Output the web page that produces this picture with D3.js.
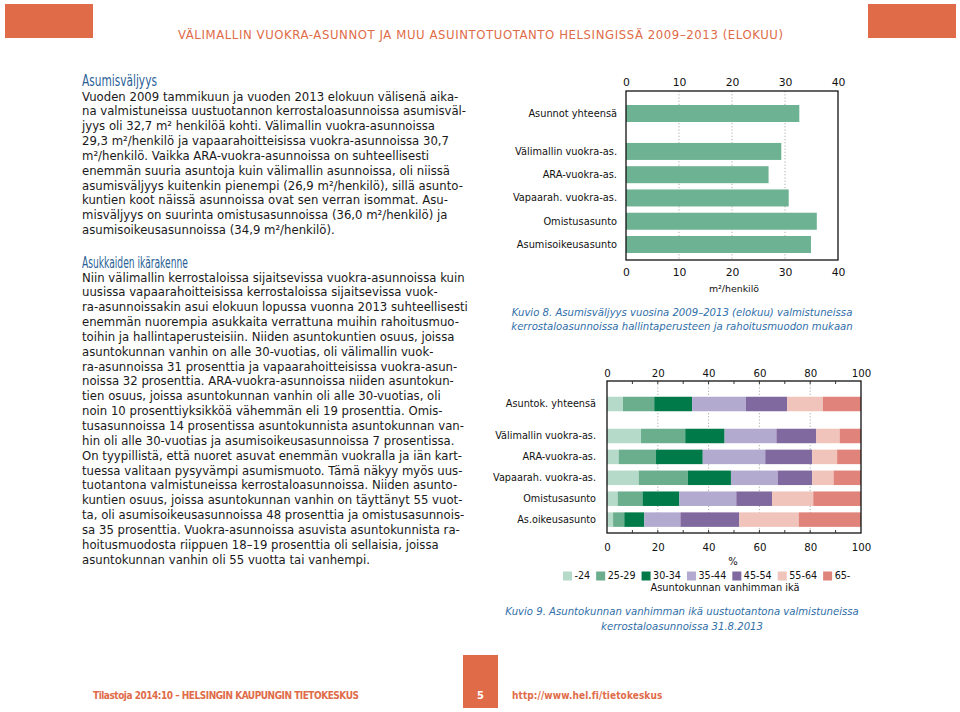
<!DOCTYPE html>
<html><head><meta charset="utf-8">
<script src="https://cdn.jsdelivr.net/npm/d3@7"></script>
<style>
html,body{margin:0;padding:0;background:#fff;}
svg{display:block;}
.body{font-family:"DejaVu Sans",Verdana,sans-serif;font-size:11.7px;fill:#1a1a1a;}
.cond{font-family:"Liberation Sans Narrow","DejaVu Sans Condensed","Roboto",sans-serif;}
.lab{font-family:"DejaVu Sans",Verdana,sans-serif;fill:#111;}
</style></head><body>
<script>
// ---------- data ----------
const pageTitle = "VÄLIMALLIN VUOKRA-ASUNNOT JA MUU ASUINTOTUOTANTO HELSINGISSÄ 2009–2013 (ELOKUU)";
const heading1 = "Asumisväljyys";
const para1 = [
 "Vuoden 2009 tammikuun ja vuoden 2013 elokuun välisenä aika-",
 "na valmistuneissa uustuotannon kerrostaloasunnoissa asumisväl-",
 "jyys oli 32,7 m² henkilöä kohti. Välimallin vuokra-asunnoissa",
 "29,3 m²/henkilö ja vapaarahoitteisissa vuokra-asunnoissa 30,7",
 "m²/henkilö. Vaikka ARA-vuokra-asunnoissa on suhteellisesti",
 "enemmän suuria asuntoja kuin välimallin asunnoissa, oli niissä",
 "asumisväljyys kuitenkin pienempi (26,9 m²/henkilö), sillä asunto-",
 "kuntien koot näissä asunnoissa ovat sen verran isommat. Asu-",
 "misväljyys on suurinta omistusasunnoissa (36,0 m²/henkilö) ja",
 "asumisoikeusasunnoissa (34,9 m²/henkilö)."
];
const heading2 = "Asukkaiden ikärakenne";
const para2 = [
 "Niin välimallin kerrostaloissa sijaitsevissa vuokra-asunnoissa kuin",
 "uusissa vapaarahoitteisissa kerrostaloissa sijaitsevissa vuok-",
 "ra-asunnoissakin asui elokuun lopussa vuonna 2013 suhteellisesti",
 "enemmän nuorempia asukkaita verrattuna muihin rahoitusmuo-",
 "toihin ja hallintaperusteisiin. Niiden asuntokuntien osuus, joissa",
 "asuntokunnan vanhin on alle 30-vuotias, oli välimallin vuok-",
 "ra-asunnoissa 31 prosenttia ja vapaarahoitteisissa vuokra-asun-",
 "noissa 32 prosenttia. ARA-vuokra-asunnoissa niiden asuntokun-",
 "tien osuus, joissa asuntokunnan vanhin oli alle 30-vuotias, oli",
 "noin 10 prosenttiyksikköä vähemmän eli 19 prosenttia. Omis-",
 "tusasunnoissa 14 prosentissa asuntokunnista asuntokunnan van-",
 "hin oli alle 30-vuotias ja asumisoikeusasunnoissa 7 prosentissa.",
 "On tyypillistä, että nuoret asuvat enemmän vuokralla ja iän kart-",
 "tuessa valitaan pysyvämpi asumismuoto. Tämä näkyy myös uus-",
 "tuotantona valmistuneissa kerrostaloasunnoissa. Niiden asunto-",
 "kuntien osuus, joissa asuntokunnan vanhin on täyttänyt 55 vuot-",
 "ta, oli asumisoikeusasunnoissa 48 prosenttia ja omistusasunnois-",
 "sa 35 prosenttia. Vuokra-asunnoissa asuvista asuntokunnista ra-",
 "hoitusmuodosta riippuen 18–19 prosenttia oli sellaisia, joissa",
 "asuntokunnan vanhin oli 55 vuotta tai vanhempi."
];

// Chart 1: Kuvio 8
const categories1 = ["Asunnot yhteensä","Välimallin vuokra-as.","ARA-vuokra-as.","Vapaarah. vuokra-as.","Omistusasunto","Asumisoikeusasunto"];
const values1 = [32.7, 29.3, 26.9, 30.7, 36.0, 34.9];
const ticks1 = [0, 10, 20, 30, 40];
const axisTitle1 = "m²/henkilö";
const caption1 = ["Kuvio 8.  Asumisväljyys vuosina 2009–2013 (elokuu) valmistuneissa",
                  "kerrostaloasunnoissa hallintaperusteen ja rahoitusmuodon mukaan"];

// Chart 2: Kuvio 9
const categories2 = ["Asuntok. yhteensä","Välimallin vuokra-as.","ARA-vuokra-as.","Vapaarah. vuokra-as.","Omistusasunto","As.oikeusasunto"];
const ageGroups = ["-24","25-29","30-34","35-44","45-54","55-64","65-"];
const age_24   = [6.3, 13.4,  4.6, 12.5,  4.2,  2.4];
const age25_29 = [12.3, 17.4, 14.7, 19.3,  9.8,  4.4];
const age30_34 = [14.9, 15.5, 18.4, 17.0, 14.5,  7.9];
const age35_44 = [21.2, 20.4, 24.6, 18.4, 22.4, 14.2];
const age45_54 = [16.2, 15.7, 18.5, 13.6, 14.1, 23.2];
const age55_64 = [14.1,  9.2,  9.8,  8.4, 16.2, 23.4];
const age65    = [15.0,  8.4,  9.4, 10.8, 18.8, 24.5];
const ticks2 = [0, 20, 40, 60, 80, 100];
const axisTitle2 = "%";
const legendTitle2 = "Asuntokunnan vanhimman ikä";
const caption2 = ["Kuvio 9.  Asuntokunnan vanhimman ikä uustuotantona valmistuneissa",
                  "kerrostaloasunnoissa 31.8.2013"];

const footerLeft = "Tilastoja 2014:10  –  HELSINGIN KAUPUNGIN TIETOKESKUS";
const pageNumber = "5";
const footerRight = "http://www.hel.fi/tietokeskus";

// ---------- styles ----------
const ORANGE = "#e06b48";
const BLUE = "#2a5f96";
const CAPBLUE = "#2f6ea8";
const BAR1 = "#6db292";
const ageColors = ["#b6dac9","#6aae8d","#017a49","#b3aacf","#80699f","#f0c3bb","#e0837a"];

const svg = d3.select("body").append("svg").attr("width", 960).attr("height", 712);
svg.append("rect").attr("width", 960).attr("height", 712).attr("fill", "#fff");

// fit text to a width by adjusting letter spacing
function fitSpacing(sel, width) {
  const n = sel.text().length;
  const w0 = sel.node().getComputedTextLength();
  sel.attr("letter-spacing", ((width - w0) / (n - 1)).toFixed(3));
}
// narrow text horizontally so it fills a given width (condensed look)
function fitScale(x, y, txt, size, fill, width, weight) {
  const g = svg.append("g");
  const t = g.append("text").attr("class", "cond").attr("x", 0).attr("y", 0)
    .attr("font-size", size).attr("fill", fill).attr("font-weight", weight || "normal").text(txt);
  const w0 = t.node().getComputedTextLength();
  g.attr("transform", `translate(${x},${y}) scale(${(width / w0).toFixed(4)},1)`);
  return t;
}

// header
svg.append("rect").attr("x", 5).attr("y", 4).attr("width", 88).attr("height", 34).attr("fill", ORANGE);
svg.append("rect").attr("x", 868).attr("y", 4).attr("width", 88).attr("height", 34).attr("fill", ORANGE);
const title = svg.append("text").attr("class", "cond").attr("x", 178).attr("y", 38.5)
  .attr("font-size", 13).attr("fill", ORANGE).text(pageTitle);
fitSpacing(title, 605);

// text column
const LX = 82, LH = 14.85;
function para(lines, y0) {
  svg.append("g").selectAll("text").data(lines).join("text")
    .attr("class", "body").attr("x", LX).attr("y", (d, i) => y0 + i * LH).text(d => d);
}
fitScale(LX, 85.5, heading1, 15.5, BLUE, 75);
para(para1, 100.5);
fitScale(LX, 267.5, heading2, 15.5, BLUE, 106);
para(para2, 281.5);

// ---------- Chart 1 ----------
(function () {
  const x0 = 626, x1 = 838, yT = 91, yB = 260;
  const x = d3.scaleLinear().domain([0, 40]).range([x0, x1]);
  const pos = i => i + (i > 0 ? 0.63 : 0);
  const y = d3.scaleLinear().domain([-0.967, 6.296]).range([yT, yB]);
  const bh = 17;
  const g = svg.append("g");
  g.selectAll("line.grid").data(ticks1.filter(t => t > 0 && t < 40)).join("line")
    .attr("x1", d => x(d)).attr("x2", d => x(d)).attr("y1", yT).attr("y2", yB)
    .attr("stroke", "#999").attr("stroke-width", 0.8).attr("stroke-dasharray", "1.2,2");
  g.selectAll("rect.bar").data(values1).join("rect")
    .attr("x", x(0)).attr("y", (d, i) => y(pos(i)) - bh / 2)
    .attr("width", d => x(d) - x(0)).attr("height", bh).attr("fill", BAR1);
  g.selectAll("text.cat").data(categories1).join("text").attr("class", "lab")
    .attr("x", 617).attr("y", (d, i) => y(pos(i))).attr("dy", "0.35em")
    .attr("text-anchor", "end").attr("font-size", 9.8).text(d => d);
  g.append("rect").attr("x", x0).attr("y", yT).attr("width", x1 - x0).attr("height", yB - yT)
    .attr("fill", "none").attr("stroke", "#111").attr("stroke-width", 1.3);
  const top = g.append("g").attr("transform", `translate(0,${yT})`)
    .call(d3.axisTop(x).tickValues(ticks1).tickSize(0).tickPadding(5));
  const bot = g.append("g").attr("transform", `translate(0,${yB})`)
    .call(d3.axisBottom(x).tickValues(ticks1).tickSize(0).tickPadding(8.5));
  [top, bot].forEach(a => {
    a.select(".domain").remove();
    a.selectAll("text").attr("font-family", "DejaVu Sans, Verdana, sans-serif").attr("font-size", 10.8).attr("fill", "#111");
  });
  g.append("text").attr("class", "lab").attr("x", (x0 + x1) / 2 + 2).attr("y", 292)
    .attr("text-anchor", "middle").attr("font-size", 9.4).text(axisTitle1);
  svg.append("g").selectAll("text").data(caption1).join("text")
    .attr("x", 682).attr("y", (d, i) => 315.5 + i * 14.5).attr("text-anchor", "middle")
    .attr("font-family", "DejaVu Sans, Verdana, sans-serif").attr("font-style", "italic")
    .attr("font-size", 10.1).attr("fill", CAPBLUE).text(d => d);
})();

// ---------- Chart 2 ----------
(function () {
  const x0 = 607, x1 = 861, yT = 381, yB = 533;
  const x = d3.scaleLinear().domain([0, 100]).range([x0, x1]);
  const pos = i => i + (i > 0 ? 0.53 : 0);
  const y = d3.scaleLinear().domain([-1.1, 6.17]).range([yT, yB]);
  const bh = 14.5;
  const series = [age_24, age25_29, age30_34, age35_44, age45_54, age55_64, age65];
  const rows = categories2.map((c, i) => {
    const o = { cat: c, i };
    ageGroups.forEach((a, k) => o[a] = series[k][i]);
    return o;
  });
  const stacked = d3.stack().keys(ageGroups)(rows);
  const color = d3.scaleOrdinal().domain(ageGroups).range(ageColors);
  const g = svg.append("g");
  g.selectAll("line.grid").data(ticks2.filter(t => t > 0 && t < 100)).join("line")
    .attr("x1", d => x(d)).attr("x2", d => x(d)).attr("y1", yT).attr("y2", yB)
    .attr("stroke", "#999").attr("stroke-width", 0.8).attr("stroke-dasharray", "1.2,2");
  g.selectAll("g.s").data(stacked).join("g").attr("fill", d => color(d.key))
    .selectAll("rect").data(d => d).join("rect")
    .attr("x", d => x(d[0])).attr("y", d => y(pos(d.data.i)) - bh / 2)
    .attr("width", d => x(d[1]) - x(d[0])).attr("height", bh);
  g.selectAll("text.cat").data(categories2).join("text").attr("class", "lab")
    .attr("x", 596).attr("y", (d, i) => y(pos(i))).attr("dy", "0.35em")
    .attr("text-anchor", "end").attr("font-size", 9.7).text(d => d);
  g.append("rect").attr("x", x0).attr("y", yT).attr("width", x1 - x0).attr("height", yB - yT)
    .attr("fill", "none").attr("stroke", "#111").attr("stroke-width", 1.3);
  const minor = d3.range(10, 100, 10);
  g.selectAll("line.mt").data(minor).join("line")
    .attr("x1", d => x(d)).attr("x2", d => x(d)).attr("y1", yT).attr("y2", yT + 3).attr("stroke", "#333");
  g.selectAll("line.mb").data(minor).join("line")
    .attr("x1", d => x(d)).attr("x2", d => x(d)).attr("y1", yB).attr("y2", yB - 3).attr("stroke", "#333");
  const top = g.append("g").attr("transform", `translate(0,${yT})`)
    .call(d3.axisTop(x).tickValues(ticks2).tickSize(0).tickPadding(4));
  const bot = g.append("g").attr("transform", `translate(0,${yB})`)
    .call(d3.axisBottom(x).tickValues(ticks2).tickSize(0).tickPadding(10.5));
  [top, bot].forEach(a => {
    a.select(".domain").remove();
    a.selectAll("text").attr("font-family", "DejaVu Sans, Verdana, sans-serif").attr("font-size", 10.2).attr("fill", "#111");
  });
  g.append("text").attr("class", "lab").attr("x", 733).attr("y", 564.5)
    .attr("text-anchor", "middle").attr("font-size", 10).text(axisTitle2);
  // legend (flowing layout)
  const lg = g.append("g");
  let lx = 563;
  ageGroups.forEach(a => {
    const it = lg.append("g").attr("transform", `translate(${lx},571.5)`);
    it.append("rect").attr("width", 9).attr("height", 9).attr("fill", color(a));
    const t = it.append("text").attr("class", "lab").attr("x", 11.5).attr("y", 4.5).attr("dy", "0.35em")
      .attr("font-size", 9.6).text(a);
    lx += 11.5 + t.node().getComputedTextLength() + 6;
  });
  g.append("text").attr("class", "lab").attr("x", 725).attr("y", 590.5)
    .attr("text-anchor", "middle").attr("font-size", 9.8).text(legendTitle2);
  svg.append("g").selectAll("text").data(caption2).join("text")
    .attr("x", 682).attr("y", (d, i) => 614.5 + i * 15).attr("text-anchor", "middle")
    .attr("font-family", "DejaVu Sans, Verdana, sans-serif").attr("font-style", "italic")
    .attr("font-size", 10.1).attr("fill", CAPBLUE).text(d => d);
})();

// ---------- footer ----------
svg.append("rect").attr("x", 463).attr("y", 655).attr("width", 35).attr("height", 53).attr("fill", ORANGE);
svg.append("text").attr("class", "cond").attr("x", 480.5).attr("y", 699).attr("text-anchor", "middle")
  .attr("font-size", 11).attr("font-weight", "bold").attr("fill", "#fff").text(pageNumber);
const fl = svg.append("text").attr("class", "cond").attr("x", 93).attr("y", 698.5)
  .attr("font-size", 10).attr("font-weight", "bold").attr("fill", ORANGE).text(footerLeft);
fitSpacing(fl, 265);
const fr = svg.append("text").attr("class", "cond").attr("x", 512).attr("y", 698.5)
  .attr("font-size", 10).attr("font-weight", "bold").attr("fill", ORANGE).text(footerRight);
fitSpacing(fr, 150);
</script>
</body></html>
